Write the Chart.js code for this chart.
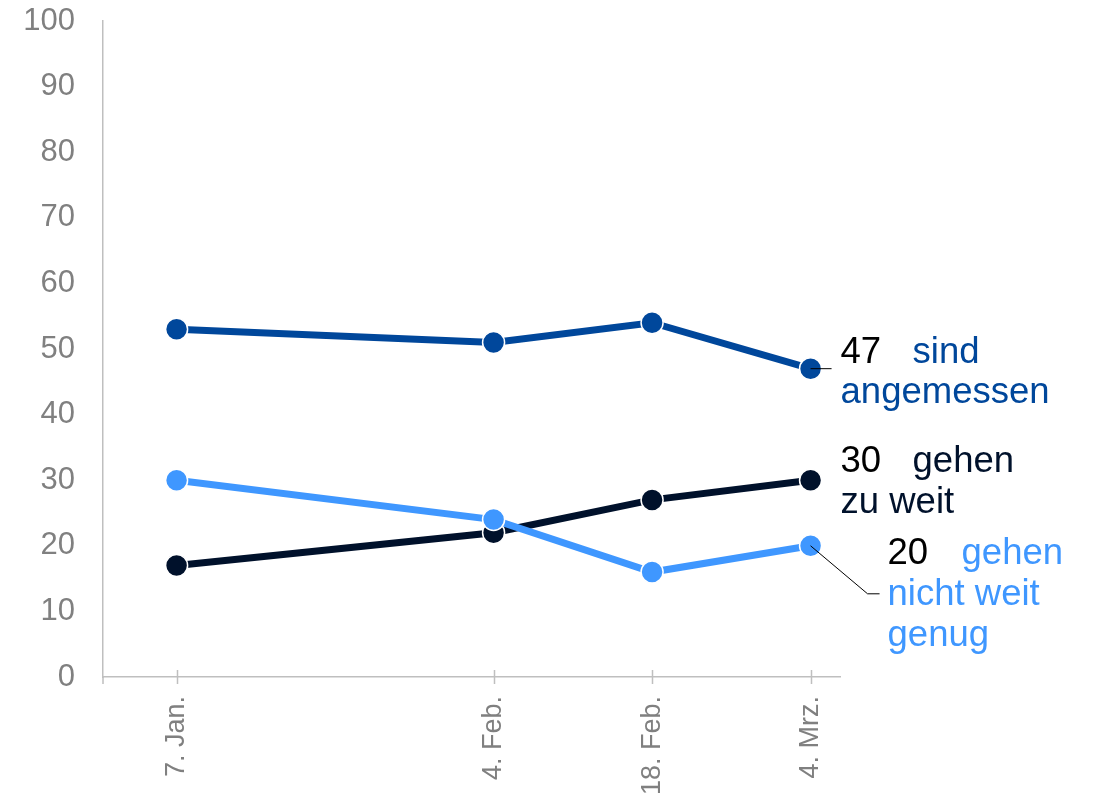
<!DOCTYPE html>
<html>
<head>
<meta charset="utf-8">
<script src="https://cdn.jsdelivr.net/npm/chart.js@4"></script>
<style>
  html, body { margin: 0; padding: 0; background: #fff; }
  #wrap { width: 1094px; height: 795px; }
</style>
</head>
<body>
<div id="wrap"><canvas id="chart"></canvas></div>
<script>
// Umfragewerte (Prozent)
const dates = ['7. Jan.', '4. Feb.', '18. Feb.', '4. Mrz.'];
const dayOffsets = [0, 28, 42, 56]; // Tage seit 7. Jan.
const angemessen = [53, 51, 54, 47];
const zuWeit = [17, 22, 27, 30];
const nichtWeitGenug = [30, 24, 16, 20];
const yTicks = [0, 10, 20, 30, 40, 50, 60, 70, 80, 90, 100];

const seriesLabels = [
    ['sind', 'angemessen'],
    ['gehen', 'nicht weit', 'genug'],
    ['gehen', 'zu weit']
];

const DARK = '#00479b';
const LIGHT = '#3f97ff';
const NAVY = '#00112b';
const AXIS = '#bfbfbf';
const FONT = '"Liberation Sans", Arial, sans-serif';

function points(values) {
    return values.map((v, i) => ({ x: dayOffsets[i], y: v }));
}

// Teilstriche, die die x-Achse kreuzen
const crossTicks = {
    id: 'crossTicks',
    afterDraw(chart) {
        const ctx = chart.ctx;
        const xs = chart.scales.x;
        const area = chart.chartArea;
        ctx.save();
        ctx.strokeStyle = AXIS;
        ctx.lineWidth = 1.5;
        ctx.beginPath();
        dayOffsets.forEach(d => {
            const x = Math.round(xs.getPixelForValue(d)) + 0.5;
            ctx.moveTo(x, area.bottom - 7);
            ctx.lineTo(x, area.bottom + 7);
        });
        ctx.moveTo(area.left, area.bottom);
        ctx.lineTo(area.left, area.bottom + 7);
        ctx.stroke();
        ctx.restore();
    }
};

// Beschriftung rechts neben dem letzten Punkt
const endLabels = {
    id: 'endLabels',
    afterDatasetsDraw(chart) {
        const ctx = chart.ctx;
        ctx.save();
        ctx.font = '36.5px ' + FONT;
        ctx.textBaseline = 'alphabetic';
        ctx.textAlign = 'left';
        ctx.strokeStyle = '#000';
        ctx.lineWidth = 1;

        const last = dayOffsets.length - 1;

        // sind angemessen
        let p = chart.getDatasetMeta(0).data[last];
        ctx.beginPath();
        ctx.moveTo(p.x, p.y);
        ctx.lineTo(p.x + 21, p.y);
        ctx.stroke();
        ctx.fillStyle = '#000';
        ctx.fillText(String(angemessen[last]), p.x + 30, p.y - 6);
        ctx.fillStyle = DARK;
        ctx.fillText(seriesLabels[0][0], p.x + 102, p.y - 6);
        ctx.fillText(seriesLabels[0][1], p.x + 30, p.y + 34);

        // gehen zu weit
        p = chart.getDatasetMeta(2).data[last];
        ctx.fillStyle = '#000';
        ctx.fillText(String(zuWeit[last]), p.x + 30, p.y - 8);
        ctx.fillStyle = NAVY;
        ctx.fillText(seriesLabels[2][0], p.x + 102, p.y - 8);
        ctx.fillText(seriesLabels[2][1], p.x + 30, p.y + 33);

        // gehen nicht weit genug
        p = chart.getDatasetMeta(1).data[last];
        ctx.beginPath();
        ctx.moveTo(p.x, p.y);
        ctx.lineTo(p.x + 57, p.y + 48);
        ctx.lineTo(p.x + 69, p.y + 48);
        ctx.stroke();
        ctx.fillStyle = '#000';
        ctx.fillText(String(nichtWeitGenug[last]), p.x + 77, p.y + 18);
        ctx.fillStyle = LIGHT;
        ctx.fillText(seriesLabels[1][0], p.x + 151, p.y + 18);
        ctx.fillText(seriesLabels[1][1], p.x + 77, p.y + 59);
        ctx.fillText(seriesLabels[1][2], p.x + 77, p.y + 100);
        ctx.restore();
    }
};

function lineSet(label, values, color) {
    return {
        label: label,
        data: points(values),
        borderColor: color,
        backgroundColor: color,
        borderWidth: 7,
        pointRadius: 11,
        pointHoverRadius: 11,
        pointBorderColor: '#fff',
        pointBorderWidth: 1.5,
        tension: 0
    };
}

new Chart(document.getElementById('chart').getContext('2d'), {
    type: 'line',
    data: {
        datasets: [
            lineSet('sind angemessen', angemessen, DARK),
            lineSet('gehen nicht weit genug', nichtWeitGenug, LIGHT),
            lineSet('gehen zu weit', zuWeit, NAVY)
        ]
    },
    options: {
        responsive: true,
        maintainAspectRatio: false,
        animation: false,
        layout: {
            padding: { left: 25, top: 21, right: 254, bottom: 0 }
        },
        plugins: {
            legend: { display: false },
            tooltip: { enabled: false }
        },
        scales: {
            x: {
                type: 'linear',
                min: -6.5,
                max: 58.6,
                afterBuildTicks: scale => {
                    scale.ticks = dayOffsets.map(v => ({ value: v }));
                },
                afterFit: scale => {
                    scale.height = 118;
                    scale.paddingLeft = 0;
                    scale.paddingRight = 0;
                },
                ticks: {
                    autoSkip: false,
                    minRotation: 90,
                    maxRotation: 90,
                    padding: 19,
                    color: '#808080',
                    font: { family: FONT, size: 27 },
                    callback: value => dates[dayOffsets.indexOf(value)]
                },
                grid: { display: false, drawTicks: false },
                border: { display: true, color: AXIS, width: 1.5 }
            },
            y: {
                min: 0,
                max: 100,
                afterBuildTicks: scale => {
                    scale.ticks = yTicks.map(v => ({ value: v }));
                },
                afterFit: scale => {
                    scale.width = 78;
                    scale.paddingTop = 0;
                    scale.paddingBottom = 0;
                },
                ticks: {
                    padding: 28,
                    color: '#808080',
                    font: { family: FONT, size: 31 }
                },
                grid: { display: false, drawTicks: false },
                border: { display: true, color: AXIS, width: 1.5 }
            }
        }
    },
    plugins: [crossTicks, endLabels]
});
</script>
</body>
</html>
